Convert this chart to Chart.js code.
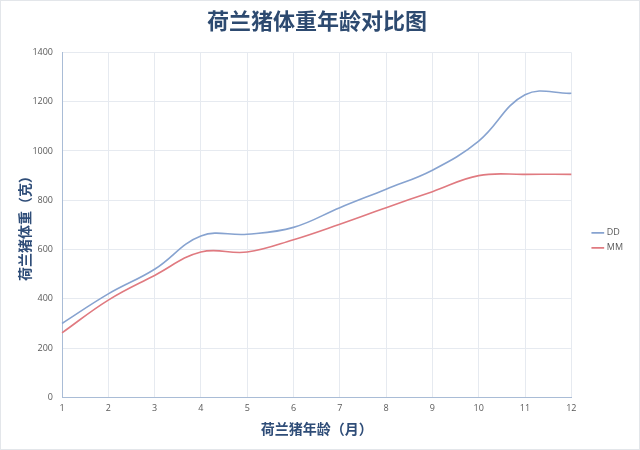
<!DOCTYPE html>
<html>
<head>
<meta charset="utf-8">
<script src="https://cdn.jsdelivr.net/npm/chart.js@4"></script>
<style>
  body { margin: 0; background: #ffffff; }
  #wrap { width: 638px; height: 448px; border: 1px solid #e3e6ea; }
</style>
</head>
<body>
<div id="wrap"><canvas id="myChart" width="638" height="448"></canvas></div>
<script>
// ages in months and weights in grams
var months = [1, 2, 3, 4, 5, 6, 7, 8, 9, 10, 11, 12];
var ddWeight = [300, 420, 520, 655, 662, 690, 770, 845, 922, 1040, 1228, 1234];
var mmWeight = [262, 395, 495, 590, 590, 640, 703, 770, 835, 900, 905, 905];
var yTicks = [0, 200, 400, 600, 800, 1000, 1200, 1400];

var tickFont = { family: "'Open Sans', 'Noto Sans CJK SC'", size: 9 };
var titleFont = { family: "'Noto Sans CJK SC'", size: 14, weight: 'bold' };

var ctx = document.getElementById("myChart");
var myChart = new Chart(ctx, {
    type: 'line',
    data: {
        labels: months,
        datasets: [{
            label: 'DD',
            data: ddWeight,
            borderColor: '#87a3d0',
            borderWidth: 1.6,
            pointRadius: 0,
            tension: 0.4,
            fill: false
        }, {
            label: 'MM',
            data: mmWeight,
            borderColor: '#e07a80',
            borderWidth: 1.6,
            pointRadius: 0,
            tension: 0.4,
            fill: false
        }]
    },
    options: {
        responsive: false,
        animation: false,
        events: [],
        layout: {
            padding: { left: 0, right: 6, top: 6, bottom: 12 }
        },
        plugins: {
            title: {
                display: true,
                text: '荷兰猪体重年龄对比图',
                color: '#2d4a70',
                font: { family: "'Noto Sans CJK SC'", size: 22, weight: 'bold' },
                padding: { top: 0, bottom: 19 }
            },
            legend: {
                position: 'right',
                title: {
                    // empty title only pushes the items down a little
                    display: true,
                    text: ' ',
                    font: { size: 9 },
                    padding: { top: 0, bottom: 26 }
                },
                labels: {
                    usePointStyle: true,
                    pointStyle: 'line',
                    boxWidth: 22,
                    color: '#595959',
                    font: tickFont,
                    padding: 6
                }
            },
            tooltip: { enabled: false }
        },
        scales: {
            x: {
                offset: false,
                grid: { color: '#e6eaf0', drawTicks: false },
                border: { color: '#a9bcd6' },
                ticks: { color: '#595959', font: tickFont, padding: 6, maxRotation: 0 },
                title: {
                    display: true,
                    text: '荷兰猪年龄（月）',
                    color: '#2f4d78',
                    font: titleFont,
                    padding: { top: 0, bottom: 0 }
                }
            },
            y: {
                min: 0,
                max: 1400,
                afterBuildTicks: function (axis) {
                    axis.ticks = yTicks.map(function (v) { return { value: v }; });
                },
                afterFit: function (scale) { scale.width = 61; },
                grid: { color: '#e6eaf0', drawTicks: false },
                border: { color: '#a9bcd6' },
                ticks: {
                    color: '#595959',
                    font: tickFont,
                    padding: 9,
                    callback: function (value) { return String(value); }
                },
                title: {
                    display: true,
                    text: '荷兰猪体重（克）',
                    color: '#2f4d78',
                    font: titleFont,
                    padding: { top: 15, bottom: 0 }
                }
            },
            gap: {
                // blank axis that keeps a gap between the plot and the legend
                position: 'right',
                display: true,
                grid: { display: false },
                border: { display: false },
                ticks: { display: false },
                afterFit: function (scale) { scale.width = 16; }
            }
        }
    }
});
</script>
</body>
</html>
